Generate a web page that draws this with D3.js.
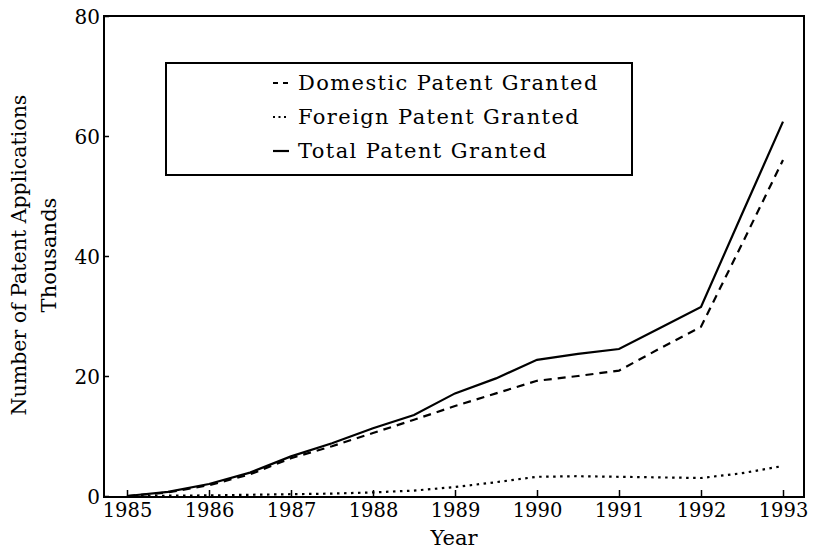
<!DOCTYPE html>
<html><head><meta charset="utf-8">
<script src="https://cdn.jsdelivr.net/npm/d3@7"></script>
<style>body{margin:0;background:#fff}svg{display:block}text{font-family:"DejaVu Serif",serif;fill:#000}</style>
</head><body><svg id="c" width="814" height="551"></svg>
<script>
const years = [1985,1985.5,1986,1986.5,1987,1987.5,1988,1988.5,1989,1989.5,1990,1990.5,1991,1991.5,1992,1992.5,1993];
const domestic = [0,0.6,1.8,3.6,6.3,8.3,10.5,12.7,15.0,17.1,19.2,20.0,20.9,24.6,28.2,42.0,56.0];
const foreign  = [0,0.05,0.1,0.2,0.3,0.4,0.6,0.9,1.5,2.3,3.2,3.3,3.2,3.1,3.0,3.8,5.0];
const total    = [0,0.7,2.0,3.9,6.6,8.8,11.3,13.5,17.1,19.6,22.7,23.7,24.5,28.0,31.5,47.0,62.4];
const xTicks = [1985,1986,1987,1988,1989,1990,1991,1992,1993];
const yTicks = [0,20,40,60,80];
const legendLabels = ["Domestic Patent Granted","Foreign Patent Granted","Total Patent Granted"];

const svg = d3.select("#c");
const x = d3.scaleLinear().domain([1985,1993]).range([127,783]);
const y = d3.scaleLinear().domain([0,80]).range([496,16]);
const L = 104, R = 804, T = 16, B = 497;

// frame
svg.append("rect").attr("x",L).attr("y",T).attr("width",R-L).attr("height",B-T)
  .attr("fill","none").attr("stroke","#000").attr("stroke-width",2);

// y axis
const ya = svg.append("g").attr("transform",`translate(${L},0)`)
  .call(d3.axisLeft(y).tickValues(yTicks).tickSize(-5).tickPadding(4).tickFormat(d3.format("d")));
ya.select(".domain").remove();
ya.selectAll("line").attr("stroke","#000").attr("stroke-width",1.5);
ya.selectAll("text").attr("font-size",20).style("font-family","DejaVu Serif").attr("dy","0.36em");

// x axis
const xa = svg.append("g").attr("transform",`translate(0,${B})`)
  .call(d3.axisBottom(x).tickValues(xTicks).tickSize(-7).tickPadding(6).tickFormat(d3.format("d")));
xa.select(".domain").remove();
xa.selectAll("line").attr("stroke","#000").attr("stroke-width",1.5);
xa.selectAll("text").attr("font-size",19.5).style("font-family","DejaVu Serif");

// axis titles
svg.append("text").attr("x",(L+R)/2).attr("y",545).attr("text-anchor","middle").attr("font-size",21).text("Year");
svg.append("text").attr("transform","translate(26,255) rotate(-90)").attr("text-anchor","middle").attr("font-size",20.5).text("Number of Patent Applications");
svg.append("text").attr("transform","translate(56,255) rotate(-90)").attr("text-anchor","middle").attr("font-size",21).text("Thousands");

const line = d3.line().x((d,i)=>x(years[i])).y(d=>y(d));
const styles = [
  {data:domestic, dash:"8,6"},
  {data:foreign, dash:"2.5,4.5"},
  {data:total, dash:null}
];
styles.forEach(s=>{
  const p = svg.append("path").datum(s.data).attr("d",line).attr("fill","none")
    .attr("stroke","#000").attr("stroke-width",2.2);
  if(s.dash) p.attr("stroke-dasharray",s.dash);
});

// legend
const lg = svg.append("g");
lg.append("rect").attr("x",166).attr("y",63).attr("width",466).attr("height",112)
  .attr("fill","#fff").attr("stroke","#000").attr("stroke-width",2);
const legDash = ["5,5","2,3.5",null];
legendLabels.forEach((t,i)=>{
  const cy = 83 + i*34;
  const l = lg.append("line").attr("x1",273).attr("x2",289).attr("y1",cy).attr("y2",cy)
    .attr("stroke","#000").attr("stroke-width",2.2);
  if(legDash[i]) l.attr("stroke-dasharray",legDash[i]);
  lg.append("text").attr("x",298).attr("y",cy+7).attr("font-size",21).attr("letter-spacing",1.4).text(t);
});
</script></body></html>
